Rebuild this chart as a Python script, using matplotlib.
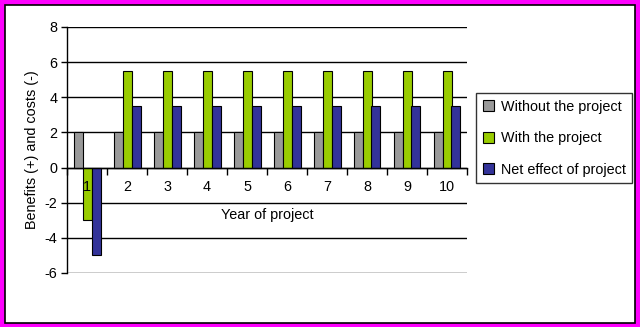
import numpy as np
import matplotlib.pyplot as plt
from matplotlib.patches import Rectangle

plt.rcParams['font.family'] = ['Liberation Sans', 'DejaVu Sans']
plt.rcParams['font.size'] = 10.4
plt.rcParams['axes.unicode_minus'] = False

years = [1, 2, 3, 4, 5, 6, 7, 8, 9, 10]
without_project = [2, 2, 2, 2, 2, 2, 2, 2, 2, 2]
with_project = [-3, 5.5, 5.5, 5.5, 5.5, 5.5, 5.5, 5.5, 5.5, 5.5]
net_effect = [-5, 3.5, 3.5, 3.5, 3.5, 3.5, 3.5, 3.5, 3.5, 3.5]
series_names = ["Without the project", "With the project", "Net effect of project"]
colors = ["#999999", "#99cc00", "#333399"]

W, H = 640, 327
fig = plt.figure(figsize=(6.4, 3.27), dpi=100, facecolor="#ff00ff")
# white chart area with thin black frame inside the magenta border
fig.patches.append(Rectangle((5 / W, 4 / H), 630 / W, 318 / H, transform=fig.transFigure,
                             facecolor="white", edgecolor="black", linewidth=1.2, zorder=-10))

ax = fig.add_axes([67 / W, 1 - 273 / H, 400 / W, 246 / H])
ax.set_facecolor("none")

x = np.arange(1, len(years) + 1)
w = 0.225
handles = []
for i, (vals, name, c) in enumerate(zip([without_project, with_project, net_effect], series_names, colors)):
    b = ax.bar(x + (i - 1) * w, vals, width=w, color=c, edgecolor="black", linewidth=0.8,
               label=name, zorder=2)
    handles.append(b)

ax.set_xlim(0.5, len(years) + 0.5)
ax.set_ylim(-6, 8)
yticks = np.arange(-6, 9, 2)
ax.set_yticks(yticks)
# gridlines behind the bars, axis labels in front of them
for yv in yticks:
    ax.axhline(yv, color="black", linewidth=1, zorder=0)
ax.tick_params(axis="y", length=4, width=1, pad=3)
ax.xaxis.set_zorder(5)

for s in ["top", "right"]:
    ax.spines[s].set_visible(False)
ax.spines["left"].set_linewidth(1)
ax.spines["bottom"].set_position(("data", 0))
ax.spines["bottom"].set_linewidth(1)
ax.spines["bottom"].set_zorder(4)

# category boundaries get tick marks, year labels sit between them
ax.set_xticks(np.arange(0.5, len(years) + 1, 1))
ax.set_xticklabels([])
ax.set_xticks(x, minor=True)
ax.set_xticklabels([str(y) for y in years], minor=True)
ax.tick_params(axis="x", which="major", direction="out", length=5, width=1)
ax.tick_params(axis="x", which="minor", length=0, pad=9)
ax.set_xlabel("Year of project", labelpad=10)
ax.set_ylabel("Benefits (+) and costs (-)", labelpad=4)

leg = fig.legend(handles=handles, loc="upper left", bbox_to_anchor=(476 / W, 1 - 93 / H),
                 frameon=True, fancybox=False, edgecolor="black", handlelength=0.8,
                 handleheight=0.8, handletextpad=0.45, labelspacing=1.22, borderpad=0.45,
                 borderaxespad=0)
leg.get_frame().set_linewidth(1)

fig.savefig("out.png", dpi=100, facecolor=fig.get_facecolor())
